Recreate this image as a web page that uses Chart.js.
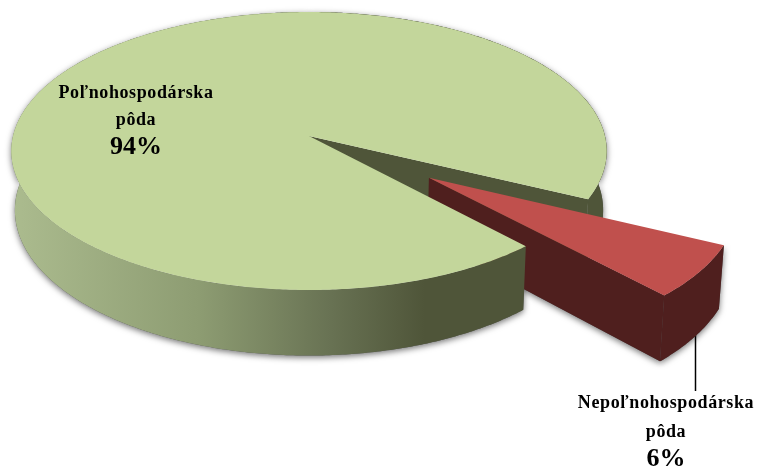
<!DOCTYPE html>
<html>
<head>
<meta charset="utf-8">
<style>html,body{margin:0;padding:0;background:#fff}canvas{display:block}</style>
<script src="https://cdn.jsdelivr.net/npm/chart.js@4"></script>
</head>
<body>
<canvas id="c" width="757" height="466"></canvas>
<script>
const categories = ["Poľnohospodárska pôda", "Nepoľnohospodárska pôda"];
const values = [94, 6];
const labelLines = [["Poľnohospodárska", "pôda", "94%"], ["Nepoľnohospodárska", "pôda", "6%"]];
const topColors = ["#C3D69B", "#C0504D"];
const wallColors = ["#4F5539", "#4F1F1E"];

const K = 0.108, XS = 2.176, YS = 1.01, DEPTH = 0.43, CONVERGE = 0.012, EXPLODE = 0.49;

function projector(el) {
  const R = el.outerRadius;
  return (u, v, z) => {
    const w = 1 - K * v;
    const conv = 1 - CONVERGE * z;
    return [el.x + R * XS * u / w * conv, el.y + R * (YS * v + DEPTH * z) / w];
  };
}
function arcPts(a0, a1, ou, ov, z, P) {
  const n = Math.max(2, Math.ceil(Math.abs(a1 - a0) / 0.01)), pts = [];
  for (let i = 0; i <= n; i++) {
    const a = a0 + (a1 - a0) * i / n;
    pts.push(P(ou + Math.cos(a), ov + Math.sin(a), z));
  }
  return pts;
}
function fillPoly(ctx, pts, fill) {
  ctx.beginPath();
  pts.forEach((p, i) => i ? ctx.lineTo(p[0], p[1]) : ctx.moveTo(p[0], p[1]));
  ctx.closePath();
  ctx.fillStyle = fill;
  ctx.fill();
}

const pie3d = {
  id: "pie3d",
  beforeDatasetsDraw(chart) {
    const ctx = chart.ctx;
    const [g, r] = chart.getDatasetMeta(0).data;
    const P = projector(g);
    const gs = g.startAngle, ge = g.endAngle;

    const grad = ctx.createLinearGradient(15, 0, 425, 0);
    grad.addColorStop(0, "#ABBB8E");
    grad.addColorStop(0.45, "#8D9C72");
    grad.addColorStop(0.77, "#687253");
    grad.addColorStop(1, wallColors[0]);

    const farStart = Math.PI * 1.5;
    const farWall = arcPts(farStart, ge, 0, 0, 0, P).concat(arcPts(farStart, ge, 0, 0, 1, P).reverse());
    const frontWall = arcPts(gs, farStart, 0, 0, 0, P).concat(arcPts(gs, farStart, 0, 0, 1, P).reverse());
    const cutWall = [P(0, 0, 0), P(Math.cos(ge), Math.sin(ge), 0), P(Math.cos(ge), Math.sin(ge), 1), P(0, 0, 1)];

    const mid = (r.startAngle + r.endAngle) / 2;
    const ou = EXPLODE * Math.cos(mid), ov = EXPLODE * Math.sin(mid);
    const rTop = arcPts(r.startAngle, r.endAngle, ou, ov, 0, P);
    const rBot = arcPts(r.startAngle, r.endAngle, ou, ov, 1, P);
    const eu = ou + Math.cos(r.endAngle), ev = ov + Math.sin(r.endAngle);
    const redRim = rTop.concat(rBot.slice().reverse());
    const redEdge = [P(ou, ov, 0), P(eu, ev, 0), P(eu, ev, 1), P(ou, ov, 1)];

    // leader line to the small slice's label
    ctx.save();
    ctx.strokeStyle = "#000";
    ctx.lineWidth = 1.5;
    ctx.beginPath();
    ctx.moveTo(695.5, 325);
    ctx.lineTo(695.5, 391);
    ctx.stroke();
    ctx.restore();

    // soft shadow under all the walls, as one layer
    ctx.save();
    ctx.shadowColor = "rgba(0,0,0,0.55)";
    ctx.shadowBlur = 6;
    ctx.shadowOffsetY = 2;
    [farWall, frontWall, redRim, redEdge].forEach(w => fillPoly(ctx, w, "#555"));
    ctx.restore();

    // faces, back to front
    fillPoly(ctx, farWall, wallColors[0]);
    fillPoly(ctx, cutWall, wallColors[0]);
    fillPoly(ctx, redRim, wallColors[1]);
    fillPoly(ctx, redEdge, wallColors[1]);
    fillPoly(ctx, [P(ou, ov, 0)].concat(rTop), topColors[1]);
    fillPoly(ctx, frontWall, grad);
    fillPoly(ctx, [P(0, 0, 0)].concat(arcPts(gs, ge, 0, 0, 0, P)), topColors[0]);

    // labels
    ctx.save();
    ctx.fillStyle = "#000";
    ctx.textAlign = "center";
    ctx.textBaseline = "alphabetic";
    const spots = [[136, [98, 125, 154]], [666, [408, 437, 466]]];
    labelLines.forEach((lines, i) => {
      lines.forEach((t, j) => {
        ctx.font = (j === 2 ? "bold 26px" : "bold 18px") + " 'Liberation Serif'";
        ctx.letterSpacing = j === 2 ? "0px" : "0.6px";
        ctx.fillText(t, spots[i][0], spots[i][1][j]);
      });
    });
    ctx.restore();
    return false;
  }
};

new Chart(document.getElementById("c"), {
  type: "pie",
  data: {
    labels: categories,
    datasets: [{ data: values, backgroundColor: topColors, borderWidth: 0 }]
  },
  options: {
    responsive: false,
    animation: false,
    rotation: 137.6,
    layout: { padding: { left: 0, right: 139, top: 0, bottom: 194 } },
    plugins: { legend: { display: false }, tooltip: { enabled: false } }
  },
  plugins: [pie3d]
});
</script>
</body>
</html>
